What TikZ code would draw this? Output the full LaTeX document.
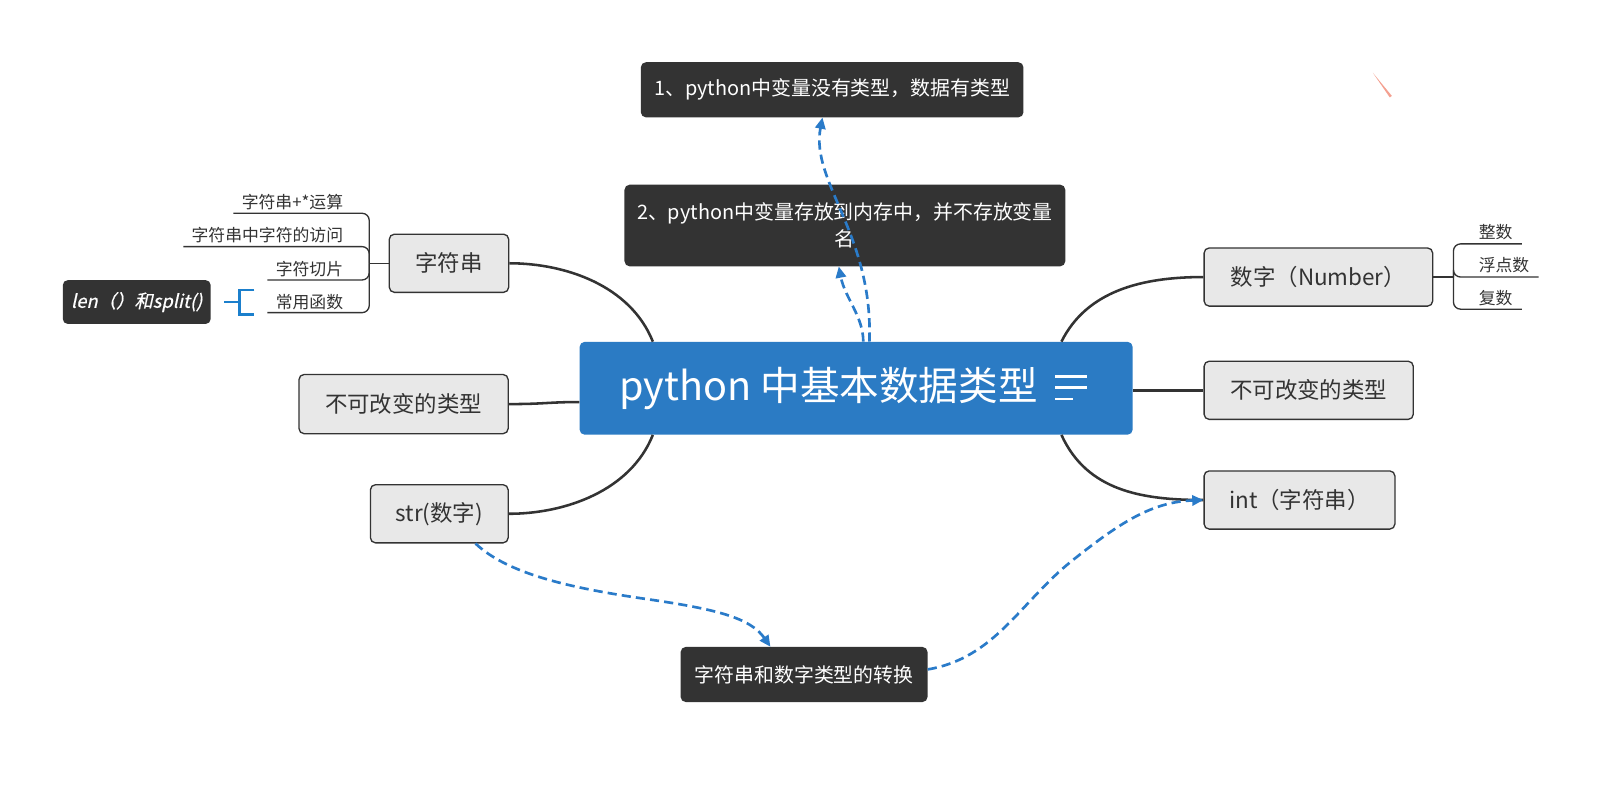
\documentclass[tikz,border=0pt]{standalone}
\usepackage{fontspec}
\setmainfont{Noto Sans CJK SC}
\newfontfamily\itfont{Noto Sans CJK SC}[FakeSlant=0.22,FakeBold=0.6]
\usetikzlibrary{arrows.meta,calc}
\definecolor{dark}{HTML}{333333}
\definecolor{rootblue}{HTML}{2B7BC4}
\definecolor{dashblue}{HTML}{2A7BC9}
\definecolor{brkblue}{HTML}{1B7FCC}
\definecolor{grayfill}{HTML}{E8E8E8}
\definecolor{markred}{HTML}{F4A090}
\begin{document}
\begin{tikzpicture}[x=1pt,y=-1pt,
  darkbox/.style={fill=dark,rounded corners=5pt,text=white,font=\fontsize{19.5}{26}\selectfont,inner sep=0pt,align=center},
  graybox/.style={fill=grayfill,draw=dark,line width=1.3pt,rounded corners=5pt,text=dark,font=\fontsize{22}{26}\selectfont,inner sep=0pt},
  conn/.style={draw=dark,line width=2.5pt},
  sub/.style={draw=dark,line width=1.3pt,rounded corners=7pt},
  subtxt/.style={text=dark,font=\fontsize{16.5}{20}\selectfont,inner sep=0pt},
  link/.style={draw=dashblue,line width=2.6pt,dash pattern=on 9pt off 5pt,-{Triangle[length=11pt,width=10pt]}},
  brk/.style={draw=brkblue,line width=2.5pt},
]
\useasboundingbox[fill=white] (0,0) rectangle (1568,789);

% root
\node[fill=rootblue,rounded corners=5pt,minimum width=542pt,minimum height=91pt,inner sep=0pt] (root) at (839,380.5) {};
\node[text=white,font=\fontsize{38.8}{40}\selectfont,inner sep=0pt] (title) at (812,381) {python 中基本数据类型};
\draw[white,line width=2.6pt] (1034,369) -- (1065,369) (1034,380) -- (1065,380) (1034,391) -- (1052,391);

% top notes
\node[darkbox,minimum width=375pt,minimum height=54pt] (box1) at (815.5,88) {1、python中变量没有类型，数据有类型};
\node[darkbox,minimum width=432pt,minimum height=80pt] (box2) at (828,221) {2、python中变量存放到内存中，并不存放变量\\名};

% gray topics
\node[graybox,minimum width=117pt,minimum height=57pt] (zfc) at (440,258) {字符串};
\node[graybox,minimum width=205pt,minimum height=58pt] (immL) at (395.5,396) {不可改变的类型};
\node[graybox,minimum width=135pt,minimum height=57pt] (strn) at (430.5,503.5) {str(数字)};
\node[graybox,minimum width=224pt,minimum height=57pt] (num) at (1292,271.5) {数字（Number）};
\node[graybox,minimum width=205pt,minimum height=57pt] (immR) at (1282.5,382.5) {不可改变的类型};
\node[graybox,minimum width=187pt,minimum height=57pt] (intn) at (1273.5,490) {int（字符串）};

% conversion and len
\node[darkbox,minimum width=242pt,minimum height=54pt] (conv) at (788,661) {字符串和数字类型的转换};
\node[darkbox,minimum width=145pt,minimum height=43pt,font=\itfont\fontsize{18}{20}\selectfont] (lenb) at (134,296) {len（）和split()};

% main connectors
\draw[conn] ([xshift=72pt]root.north west) .. controls +(-22,-55) and +(55,0) .. (zfc.east);
\draw[conn] ([yshift=-13.5pt]root.west) .. controls +(-30,0) and +(35,0) .. (immL.east);
\draw[conn] ([xshift=72pt]root.south west) .. controls +(-22,55) and +(55,0) .. (strn.east);
\draw[conn] ([xshift=-70pt]root.north east) .. controls +(25,-50) and +(-60,0) .. (num.west);
\draw[conn] (root.east |- immR.west) -- (immR.west);
\draw[conn] ([xshift=-70pt]root.south east) .. controls +(25,55) and +(-60,0) .. (intn.west);

% string sub-branches
\coordinate (zj) at ([xshift=-19pt]zfc.west);
\draw[sub] (zfc.west) -- (zj);
\node[subtxt,anchor=east] (s1) at (336.5,197.6) {字符串+*运算};
\node[subtxt,anchor=east] (s2) at (336.5,230.3) {字符串中字符的访问};
\node[subtxt,anchor=east] (s3) at (336.5,263.5) {字符切片};
\node[subtxt,anchor=east] (s4) at (336.5,296.2) {常用函数};
\draw[sub] (zj) -- (zj |- 0,209) -- ([xshift=-8pt]s1.west |- 0,209);
\draw[sub] (zj) -- (zj |- 0,241.7) -- ([xshift=-8pt]s2.west |- 0,241.7);
\draw[sub] (zj) -- (zj |- 0,274.4) -- ([xshift=-8pt]s3.west |- 0,274.4);
\draw[sub] (zj) -- (zj |- 0,306.4) -- ([xshift=-8pt]s4.west |- 0,306.4);

% bracket to len box
\draw[brk] ([xshift=13pt]lenb.east) -- ++(15,0);
\draw[brk] ([xshift=42.5pt,yshift=11.8pt]lenb.east) -- ++(-14.5,0) -- ++(0,23.8) -- ++(14.5,0);

% number sub-branches
\coordinate (nj) at ([xshift=19.7pt]num.east);
\draw[sub] (num.east) -- (nj);
\node[subtxt,anchor=west] (n1) at (1449,227) {整数};
\node[subtxt,anchor=west] (n2) at (1449,259.7) {浮点数};
\node[subtxt,anchor=west] (n3) at (1449,292.4) {复数};
\draw[sub] (nj) -- (nj |- 0,239) -- ([xshift=9pt]n1.east |- 0,239);
\draw[sub] (nj) -- (nj |- 0,271.5) -- ([xshift=9pt]n2.east |- 0,271.5);
\draw[sub] (nj) -- (nj |- 0,303) -- ([xshift=9pt]n3.east |- 0,303);

% dashed links
\draw[link] ([xshift=7pt]root.north) .. controls (846,310) and (828,292) .. ([xshift=-6pt]box2.south);
\draw[link] ([xshift=13pt]root.north) .. controls (856,230) and (794,178) .. ([xshift=-9.5pt]box1.south);
\draw[link] ([xshift=35.5pt]strn.south) .. controls (500,565) and (570,578) .. (640,588) .. controls (700,597) and (735,605) .. ([xshift=-33pt]conv.north);
\draw[link] ([yshift=5pt]conv.east) .. controls (975,645) and (1000,590) .. (1050,550) .. controls (1100,510) and (1130,492) .. (intn.west);

% stray mark
\fill[markred] (1345.5,71.5) -- (1364,94) -- (1362,95.5) -- cycle;
\end{tikzpicture}
\end{document}
